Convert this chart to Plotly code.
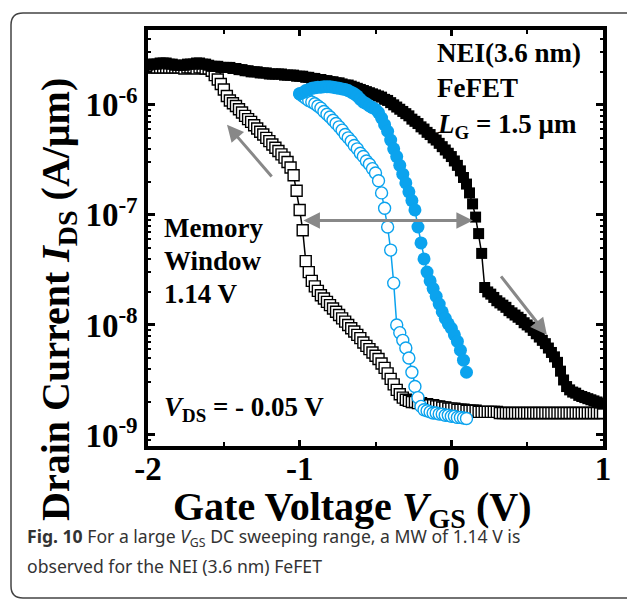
import plotly.graph_objects as go

# ---------------- data ----------------
# Gate voltage sweep points for the large-range (black) sweeps, V
vgs_black = [
    -2.00, -1.98, -1.96, -1.94, -1.92, -1.90, -1.88, -1.86, -1.84, -1.82,
    -1.80, -1.78, -1.76, -1.74, -1.72, -1.70, -1.68, -1.66, -1.64, -1.62,
    -1.60, -1.58, -1.56, -1.54, -1.52, -1.50, -1.48, -1.46, -1.44, -1.42,
    -1.40, -1.38, -1.36, -1.34, -1.32, -1.30, -1.28, -1.26, -1.24, -1.22,
    -1.20, -1.18, -1.16, -1.14, -1.12, -1.10, -1.08, -1.06, -1.04, -1.02,
    -1.00, -0.98, -0.96, -0.94, -0.92, -0.90, -0.88, -0.86, -0.84, -0.82,
    -0.80, -0.78, -0.76, -0.74, -0.72, -0.70, -0.68, -0.66, -0.64, -0.62,
    -0.60, -0.58, -0.56, -0.54, -0.52, -0.50, -0.48, -0.46, -0.44, -0.42,
    -0.40, -0.38, -0.36, -0.34, -0.32, -0.30, -0.28, -0.26, -0.24, -0.22,
    -0.20, -0.18, -0.16, -0.14, -0.12, -0.10, -0.08, -0.06, -0.04, -0.02,
    0.00, 0.02, 0.04, 0.06, 0.08, 0.10, 0.12, 0.14, 0.16, 0.18,
    0.20, 0.22, 0.24, 0.26, 0.28, 0.30, 0.32, 0.34, 0.36, 0.38,
    0.40, 0.42, 0.44, 0.46, 0.48, 0.50, 0.52, 0.54, 0.56, 0.58,
    0.60, 0.62, 0.64, 0.66, 0.68, 0.70, 0.72, 0.74, 0.76, 0.78,
    0.80, 0.82, 0.84, 0.86, 0.88, 0.90, 0.92, 0.94, 0.96, 0.98,
    1.00,
]
# log10 of I_DS (A/um), forward sweep (filled black squares)
log_ids_black_fwd = [
    -5.64, -5.63, -5.63, -5.63, -5.62, -5.62, -5.62, -5.63, -5.63, -5.64,
    -5.64, -5.64, -5.64, -5.63, -5.63, -5.63, -5.62, -5.62, -5.63, -5.63,
    -5.64, -5.65, -5.65, -5.65, -5.66, -5.66, -5.66, -5.66, -5.67, -5.67,
    -5.68, -5.68, -5.69, -5.69, -5.70, -5.70, -5.70, -5.71, -5.71, -5.71,
    -5.72, -5.72, -5.72, -5.72, -5.72, -5.73, -5.73, -5.73, -5.73, -5.74,
    -5.74, -5.74, -5.75, -5.75, -5.76, -5.76, -5.77, -5.77, -5.78, -5.78,
    -5.79, -5.79, -5.80, -5.80, -5.81, -5.82, -5.82, -5.83, -5.84, -5.85,
    -5.86, -5.87, -5.88, -5.89, -5.90, -5.91, -5.92, -5.93, -5.95, -5.96,
    -5.98, -6.00, -6.02, -6.04, -6.06, -6.08, -6.10, -6.13, -6.15, -6.17,
    -6.20, -6.22, -6.25, -6.27, -6.30, -6.32, -6.35, -6.38, -6.41, -6.44,
    -6.47, -6.51, -6.55, -6.60, -6.66, -6.72, -6.80, -6.90, -7.02, -7.17,
    -7.35, -7.66, -7.70, -7.72, -7.75, -7.78, -7.80, -7.82, -7.84, -7.87,
    -7.89, -7.91, -7.93, -7.95, -7.98, -8.00, -8.02, -8.05, -8.08, -8.11,
    -8.14, -8.17, -8.21, -8.25, -8.29, -8.34, -8.42, -8.50, -8.56, -8.59,
    -8.61, -8.62, -8.64, -8.65, -8.66, -8.67, -8.68, -8.69, -8.70, -8.71,
    -8.72,
]
# log10 of I_DS (A/um), reverse sweep (open black squares)
log_ids_black_rev = [
    -5.66, -5.66, -5.66, -5.66, -5.66, -5.66, -5.66, -5.66, -5.66, -5.66,
    -5.66, -5.66, -5.67, -5.66, -5.66, -5.66, -5.67, -5.66, -5.66, -5.67,
    -5.67, -5.69, -5.73, -5.77, -5.81, -5.86, -5.92, -5.96, -5.985, -6.01,
    -6.04, -6.07, -6.10, -6.13, -6.155, -6.185, -6.215, -6.245, -6.27, -6.30,
    -6.33, -6.36, -6.39, -6.42, -6.45, -6.48, -6.52, -6.57, -6.64, -6.78,
    -6.955, -7.14, -7.42, -7.52, -7.60, -7.65, -7.69, -7.73, -7.76, -7.79,
    -7.82, -7.85, -7.88, -7.91, -7.94, -7.97, -8.00, -8.03, -8.06, -8.09,
    -8.12, -8.16, -8.19, -8.22, -8.25, -8.28, -8.31, -8.35, -8.39, -8.44,
    -8.49, -8.54, -8.59, -8.63, -8.66, -8.68, -8.69, -8.70, -8.70, -8.71,
    -8.71, -8.72, -8.72, -8.73, -8.73, -8.74, -8.74, -8.75, -8.75, -8.76,
    -8.76, -8.76, -8.77, -8.77, -8.77, -8.78, -8.78, -8.78, -8.78, -8.79,
    -8.79, -8.79, -8.79, -8.79, -8.79, -8.79, -8.80, -8.80, -8.80, -8.80,
    -8.80, -8.80, -8.80, -8.80, -8.80, -8.80, -8.80, -8.80, -8.80, -8.80,
    -8.80, -8.80, -8.80, -8.80, -8.80, -8.80, -8.80, -8.80, -8.80, -8.80,
    -8.80, -8.80, -8.80, -8.80, -8.80, -8.80, -8.80, -8.80, -8.80, -8.80,
    -8.80,
]
# Gate voltage sweep points for the small-range (blue) sweeps, V
vgs_blue = [
    -1.00, -0.98, -0.96, -0.94, -0.92, -0.90, -0.88, -0.86, -0.84, -0.82,
    -0.80, -0.78, -0.76, -0.74, -0.72, -0.70, -0.68, -0.66, -0.64, -0.62,
    -0.60, -0.58, -0.56, -0.54, -0.52, -0.50, -0.48, -0.46, -0.44, -0.42,
    -0.40, -0.38, -0.36, -0.34, -0.32, -0.30, -0.28, -0.26, -0.24, -0.22,
    -0.20, -0.18, -0.16, -0.14, -0.12, -0.10, -0.08, -0.06, -0.04, -0.02,
    0.00, 0.02, 0.04, 0.06, 0.08, 0.10,
]
# log10 of I_DS (A/um), filled blue circles
log_ids_blue_fwd = [
    -5.90, -5.89, -5.87, -5.86, -5.85, -5.845, -5.84, -5.84, -5.835, -5.835,
    -5.836, -5.84, -5.845, -5.85, -5.855, -5.86, -5.87, -5.885, -5.90, -5.92,
    -5.95, -5.975, -5.99, -6.01, -6.025, -6.04, -6.07, -6.12, -6.18, -6.24,
    -6.32, -6.40, -6.47, -6.55, -6.63, -6.71, -6.79, -6.87, -6.955, -7.11,
    -7.255, -7.40, -7.52, -7.60, -7.67, -7.74, -7.81, -7.88, -7.94, -7.99,
    -8.03, -8.09, -8.15, -8.23, -8.32, -8.43,
]
# log10 of I_DS (A/um), open blue circles
log_ids_blue_rev = [
    -5.90, -5.92, -5.94, -5.96, -5.975, -5.99, -6.01, -6.03, -6.06, -6.085,
    -6.11, -6.14, -6.17, -6.20, -6.23, -6.27, -6.30, -6.33, -6.37, -6.40,
    -6.44, -6.47, -6.51, -6.54, -6.58, -6.62, -6.69, -6.80, -6.94, -7.11,
    -7.32, -7.62, -8.00, -8.07, -8.14, -8.21, -8.30, -8.43, -8.56, -8.66,
    -8.74, -8.77, -8.78, -8.79, -8.80, -8.80, -8.81, -8.81, -8.82, -8.82,
    -8.83, -8.83, -8.84, -8.84, -8.845, -8.85,
]

x_tick_vals = [-2, -1, 0, 1]
x_tick_text = ["-2", "-1", "0", "1"]
y_tick_vals = [1e-9, 1e-8, 1e-7, 1e-6]
y_tick_text = ["10<sup>-9</sup>", "10<sup>-8</sup>", "10<sup>-7</sup>", "10<sup>-6</sup>"]

# memory window arrow end points (V) and level (log10 A/um)
mw_left, mw_right, mw_level = -0.985, 0.142, -7.05

# ---------------- styling ----------------
BLUE = "#0BA3EE"
GRAY = "#888888"
SERIF = "Liberation Serif"
W, H = 627, 603
ML, MR, MT, MB = 148, 24, 30, 157

def to_amp(logs):
    return [10 ** v for v in logs]

fig = go.Figure()

fig.add_trace(go.Scatter(
    x=vgs_black, y=to_amp(log_ids_black_rev), mode="lines+markers",
    line=dict(color="black", width=1.5),
    marker=dict(symbol="square", size=11, color="white",
                line=dict(color="black", width=1.4)),
    showlegend=False, hoverinfo="skip"))
fig.add_trace(go.Scatter(
    x=vgs_black, y=to_amp(log_ids_black_fwd), mode="lines+markers",
    line=dict(color="black", width=1.5),
    marker=dict(symbol="square", size=11, color="black",
                line=dict(color="black", width=0)),
    showlegend=False, hoverinfo="skip"))
fig.add_trace(go.Scatter(
    x=vgs_blue, y=to_amp(log_ids_blue_rev), mode="lines+markers",
    line=dict(color=BLUE, width=1.5),
    marker=dict(symbol="circle", size=12, color="white",
                line=dict(color=BLUE, width=1.4)),
    showlegend=False, hoverinfo="skip"))
fig.add_trace(go.Scatter(
    x=vgs_blue, y=to_amp(log_ids_blue_fwd), mode="lines+markers",
    line=dict(color=BLUE, width=1.5),
    marker=dict(symbol="circle", size=13, color=BLUE,
                line=dict(color=BLUE, width=0)),
    showlegend=False, hoverinfo="skip"))

tickfont = dict(family=SERIF, size=33, color="black", weight="bold")

fig.update_xaxes(
    range=[-2, 1], tickmode="array", tickvals=x_tick_vals, ticktext=x_tick_text,
    ticks="inside", ticklen=6, tickwidth=3, tickcolor="black",
    minor=dict(tickvals=[-1.5, -0.5, 0.5], ticks="inside", ticklen=4,
               tickwidth=2, tickcolor="black", showgrid=False),
    showline=True, linewidth=3.5, linecolor="black", mirror="ticks",
    showgrid=False, zeroline=False, tickfont=tickfont, ticklabelstandoff=-9)

minor_y = [m * 10.0 ** e for e in range(-10, -4) for m in range(2, 10)]
fig.update_yaxes(
    type="log", range=[-9.1, -5.32], tickmode="array",
    tickvals=y_tick_vals, ticktext=y_tick_text,
    ticks="inside", ticklen=7, tickwidth=3, tickcolor="black",
    minor=dict(tickvals=minor_y, ticks="inside", ticklen=3, tickwidth=1.5,
               tickcolor="black", showgrid=False),
    showline=True, linewidth=3.5, linecolor="black", mirror="ticks",
    showgrid=False, zeroline=False, tickfont=tickfont)

def px2x(px):
    return (px - ML) / (W - ML - MR)

def py2y(py):
    return (H - MB - py) / (H - MT - MB)

ann = []
# arrows
ann.append(dict(x=mw_right, y=mw_level, ax=mw_left, ay=mw_level, xref="x", yref="y",
                axref="x", ayref="y", text="", showarrow=True, arrowhead=2,
                startarrowhead=2, arrowside="end+start", arrowsize=1.1,
                startarrowsize=1.1, arrowwidth=3, arrowcolor=GRAY))
ann.append(dict(x=-1.479, y=-6.182, ax=-1.176, ay=-6.664, xref="x", yref="y",
                axref="x", ayref="y", text="", showarrow=True, arrowhead=2,
                arrowsize=1.1, arrowwidth=3, arrowcolor=GRAY))
ann.append(dict(x=0.630, y=-8.09, ax=0.320, ay=-7.545, xref="x", yref="y",
                axref="x", ayref="y", text="", showarrow=True, arrowhead=2,
                arrowsize=1.1, arrowwidth=3, arrowcolor=GRAY))

def txt(s, x, y, size=27):
    ann.append(dict(x=x, y=y, xref="x", yref="y", text=s, showarrow=False,
                    xanchor="left", yanchor="middle",
                    font=dict(family=SERIF, size=size, color="black")))

txt("<b>NEI(3.6 nm)</b>", -0.11, -5.53)
txt("<b>FeFET</b>", -0.11, -5.85)
txt("<b><i>L</i><sub>G</sub> = 1.5 μm</b>", -0.11, -6.19)
txt("<b>Memory</b>", -1.905, -7.12)
txt("<b>Window</b>", -1.905, -7.42)
txt("<b>1.14 V</b>", -1.905, -7.72)
txt("<b><i>V</i><sub>DS</sub> = - 0.05 V</b>", -1.905, -8.76)

# axis titles
ann.append(dict(x=px2x(352), y=py2y(509), xref="paper", yref="paper",
                text="<b>Gate Voltage <i>V</i><sub>GS</sub> (V)</b>", showarrow=False,
                xanchor="center", yanchor="middle",
                font=dict(family=SERIF, size=40, color="black")))
ann.append(dict(x=px2x(58), y=py2y(300), xref="paper", yref="paper",
                text="<b>Drain Current <i>I</i><sub>DS</sub> (A/μm)</b>", showarrow=False,
                textangle=-90, xanchor="center", yanchor="middle",
                font=dict(family=SERIF, size=40, color="black")))

# caption
cap = dict(family="Noto Sans", size=17.6, color="#333333")
ann.append(dict(x=px2x(25), y=py2y(537), xref="paper", yref="paper",
                text="<b>Fig. 10</b> For a large <i>V</i><sub>GS</sub> DC sweeping range, a MW of 1.14 V is",
                showarrow=False, xanchor="left", yanchor="middle", font=cap))
ann.append(dict(x=px2x(25), y=py2y(566), xref="paper", yref="paper",
                text="observed for the NEI (3.6 nm) FeFET",
                showarrow=False, xanchor="left", yanchor="middle", font=cap))

# outer rounded frame
L, R, T, B, rr = 11, 650, 13, 598, 12
rx, ry = rr / (W - ML - MR), rr / (H - MT - MB)
xl, xr, yt, yb = px2x(L), px2x(R), py2y(T), py2y(B)
path = (f"M {xl},{yb + ry} L {xl},{yt - ry} Q {xl},{yt} {xl + rx},{yt} "
        f"L {xr - rx},{yt} Q {xr},{yt} {xr},{yt - ry} L {xr},{yb + ry} "
        f"Q {xr},{yb} {xr - rx},{yb} L {xl + rx},{yb} Q {xl},{yb} {xl},{yb + ry} Z")

fig.update_layout(
    width=W, height=H, margin=dict(l=ML, r=MR, t=MT, b=MB),
    paper_bgcolor="white", plot_bgcolor="white",
    annotations=ann,
    shapes=[dict(type="path", path=path, xref="paper", yref="paper",
                 line=dict(color="#444444", width=1.5), layer="below")],
    showlegend=False, hovermode=False,
)

fig.write_html("out.html", config={"displayModeBar": False},
               post_script="document.body.style.margin='0px';")
